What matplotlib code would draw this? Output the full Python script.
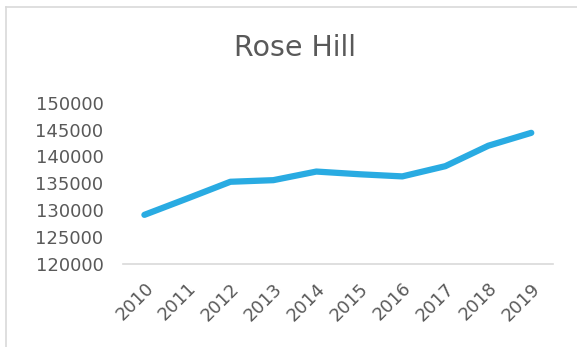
import matplotlib
matplotlib.use("Agg")
import matplotlib.pyplot as plt
from matplotlib.lines import Line2D

years = ["2010", "2011", "2012", "2013", "2014", "2015", "2016", "2017", "2018", "2019"]
population = [129150, 132200, 135300, 135600, 137200, 136700, 136300, 138200, 142000, 144400]
title = "Rose Hill"

fig = plt.figure(figsize=(5.77, 3.47), dpi=100)
ax = fig.add_axes([0.213, 0.239, 0.745, 0.465])

x = list(range(len(years)))
ax.plot(x, population, color="#29ABE2", lw=4.5, solid_capstyle="round", solid_joinstyle="round")

ax.set_xlim(-0.5, len(years) - 0.5)
ax.set_ylim(120000, 150000)
ax.set_yticks(range(120000, 150001, 5000))
ax.set_xticks(x)
ax.set_xticklabels(years, rotation=45, ha="right", va="top", rotation_mode="anchor")

for s in ["top", "right", "left"]:
    ax.spines[s].set_visible(False)
ax.spines["bottom"].set_color("#D9D9D9")
ax.spines["bottom"].set_linewidth(1.2)
ax.tick_params(axis="both", length=0, labelsize=13, labelcolor="#595959")
ax.tick_params(axis="y", pad=14)
ax.tick_params(axis="x", pad=11)

fig.text(0.511, 0.862, title, ha="center", va="center", fontsize=20.5, color="#595959")

# outer chart border (only left and top are visible in the crop)
fig.add_artist(Line2D([6 / 577, 6 / 577], [0, 1 - 7 / 347], color="#D9D9D9", lw=1.2))
fig.add_artist(Line2D([6 / 577, 1], [1 - 7 / 347, 1 - 7 / 347], color="#D9D9D9", lw=1.2))

fig.savefig("out.png", dpi=100)
